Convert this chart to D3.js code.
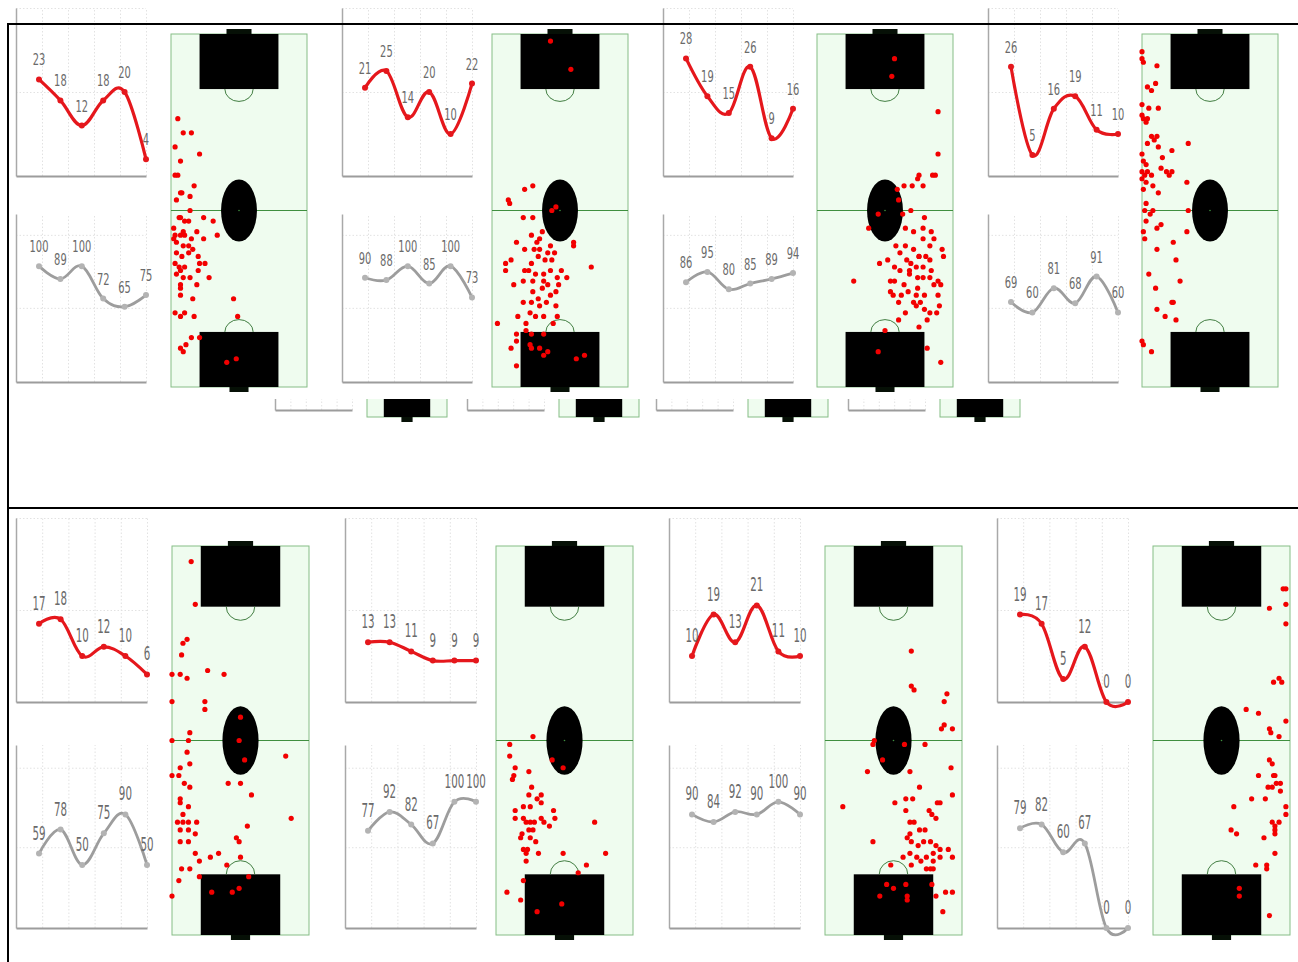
<!DOCTYPE html>
<html>
<head>
<meta charset="utf-8">
<script src="https://cdn.jsdelivr.net/npm/d3@7"></script>
<style>
  body { margin: 0; background: #fff; }
  svg { display: block; }
</style>
</head>
<body>
<svg id="canvas"></svg>
<script>
// six matches on every small line chart
const matches = ['M1', 'M2', 'M3', 'M4', 'M5', 'M6'];

// red chart values (upper) and grey chart values (lower), one pair per panel
const red1 = [23, 18, 12, 18, 20, 4];
const gray1 = [100, 89, 100, 72, 65, 75];
const red2 = [21, 25, 14, 20, 10, 22];
const gray2 = [90, 88, 100, 85, 100, 73];
const red3 = [28, 19, 15, 26, 9, 16];
const gray3 = [86, 95, 80, 85, 89, 94];
const red4 = [26, 5, 16, 19, 11, 10];
const gray4 = [69, 60, 81, 68, 91, 60];
const red5 = [17, 18, 10, 12, 10, 6];
const gray5 = [59, 78, 50, 75, 90, 50];
const red6 = [13, 13, 11, 9, 9, 9];
const gray6 = [77, 92, 82, 67, 100, 100];
const red7 = [10, 19, 13, 21, 11, 10];
const gray7 = [90, 84, 92, 90, 100, 90];
const red8 = [19, 17, 5, 12, 0, 0];
const gray8 = [79, 82, 60, 67, 0, 0];

const redMax = 40;
const grayMax = 145;
const redGridTicks = [20, 40];
const grayGridTicks = [64, 127];

// red dots on each pitch: [across 0-100, along 0-100 from the top goal]
const shots1 = [[5,24],[9,28],[15,28],[3,32],[21,34],[7,36],[3,40],[5,40],[17,43],[7,45],[8,45],[14,46],[4,47],[14,50],[7,52],[6,52],[10,53],[13,53],[24,52],[31,53],[2,55],[9,56],[19,56],[34,57],[3,57],[7,57],[10,57],[15,58],[24,58],[2,58],[4,59],[9,60],[13,60],[16,61],[4,62],[8,63],[13,62],[20,63],[3,65],[6,66],[10,66],[21,65],[25,65],[7,67],[4,68],[9,69],[14,69],[20,67],[28,69],[7,71],[19,71],[7,72],[7,74],[16,75],[46,75],[3,79],[7,80],[10,79],[17,80],[49,80],[21,86],[15,86],[11,88],[7,89],[9,90],[41,93],[48,92]];
const shots2 = [[43,2],[58,10],[24,44],[30,43],[12,47],[13,48],[47,49],[44,50],[23,52],[30,52],[37,56],[29,57],[35,58],[18,59],[33,59],[43,60],[60,59],[60,60],[24,61],[31,61],[35,61],[41,62],[46,62],[14,64],[34,63],[39,64],[44,64],[10,65],[29,65],[51,67],[73,66],[10,67],[24,67],[27,67],[32,68],[38,68],[43,67],[48,69],[55,69],[16,71],[23,70],[30,70],[38,70],[41,71],[49,71],[30,73],[37,72],[43,74],[47,73],[23,76],[29,76],[34,75],[40,76],[47,77],[35,77],[19,80],[28,79],[32,80],[38,80],[48,80],[45,82],[4,82],[25,82],[25,84],[18,85],[29,85],[38,85],[28,88],[35,89],[29,89],[18,87],[14,89],[41,90],[38,91],[62,92],[68,91],[18,94]];
const shots3 = [[57,7],[55,12],[89,22],[89,34],[75,40],[74,41],[85,40],[87,40],[59,44],[64,43],[70,43],[78,43],[60,47],[45,51],[63,51],[69,50],[79,52],[38,55],[65,55],[71,56],[78,55],[84,56],[86,58],[78,58],[83,60],[58,60],[65,60],[61,62],[71,61],[75,63],[80,63],[92,61],[93,63],[46,65],[52,64],[57,66],[66,64],[69,65],[75,63],[83,64],[61,67],[68,67],[73,66],[78,66],[84,67],[27,70],[54,70],[57,70],[68,68],[74,69],[78,69],[83,69],[89,70],[64,71],[74,72],[86,71],[91,71],[54,73],[56,74],[62,74],[67,73],[73,74],[60,76],[71,76],[76,76],[79,74],[90,77],[89,74],[79,78],[73,77],[88,79],[83,79],[65,79],[60,81],[81,81],[50,84],[75,83],[45,90],[81,89],[91,93]];
const shots4 = [[0,5],[0,7],[1,8],[11,9],[4,15],[7,16],[10,14],[0,20],[5,21],[12,21],[0,23],[1,24],[3,25],[4,24],[7,29],[9,30],[11,29],[4,31],[12,32],[15,35],[22,33],[34,31],[0,34],[1,36],[3,37],[0,39],[2,40],[4,39],[7,40],[14,38],[18,39],[20,40],[22,39],[0,41],[3,42],[1,44],[8,43],[12,45],[33,42],[3,48],[2,50],[8,50],[34,50],[6,51],[3,53],[14,54],[11,55],[33,56],[1,56],[2,58],[23,59],[11,61],[25,64],[5,68],[28,70],[10,72],[22,76],[23,76],[11,78],[17,80],[25,81],[0,87],[1,88],[7,90]];
const shots5 = [[14,4],[17,15],[8,25],[11,24],[7,28],[0,33],[6,33],[11,34],[26,32],[38,33],[0,40],[24,40],[24,42],[50,44],[13,48],[12,50],[0,50],[49,50],[11,53],[53,55],[13,56],[83,54],[6,57],[0,59],[5,59],[9,61],[13,62],[41,61],[50,61],[58,64],[6,65],[6,66],[12,67],[8,69],[87,70],[4,71],[8,71],[12,71],[18,71],[6,73],[12,73],[55,72],[17,74],[6,76],[12,76],[47,75],[49,76],[17,79],[20,81],[28,80],[34,79],[50,80],[40,82],[7,83],[13,83],[20,85],[5,86],[56,85],[29,89],[44,89],[49,88],[0,90]];
const shots6 = [[27,49],[10,51],[10,54],[41,55],[49,57],[14,57],[12,60],[13,59],[24,58],[26,62],[24,64],[33,64],[30,65],[33,66],[20,67],[25,67],[42,68],[14,68],[14,70],[20,70],[22,71],[25,71],[28,71],[33,70],[35,71],[39,72],[43,70],[72,71],[19,74],[24,73],[27,73],[18,75],[25,75],[29,76],[20,78],[23,78],[22,79],[22,81],[31,79],[49,79],[80,79],[60,84],[66,82],[20,86],[8,89],[18,91],[30,94],[48,92]];
const shots7 = [[63,27],[63,36],[65,37],[89,38],[87,40],[87,46],[85,47],[93,47],[35,51],[36,50],[58,51],[73,51],[42,55],[31,58],[62,58],[92,57],[69,62],[93,64],[13,67],[51,66],[59,65],[64,65],[59,68],[76,68],[78,69],[81,70],[82,66],[84,66],[62,71],[65,71],[35,76],[62,74],[69,73],[73,73],[60,75],[63,76],[68,77],[72,76],[77,76],[81,77],[90,78],[84,78],[79,79],[62,79],[67,80],[70,81],[57,80],[74,80],[84,80],[93,80],[79,81],[63,82],[74,83],[77,83],[79,83],[48,82],[45,87],[59,87],[50,88],[78,87],[40,90],[60,90],[60,91],[81,90],[88,89],[93,89],[86,94]];
const shots8 = [[95,11],[97,11],[97,15],[85,16],[97,20],[88,35],[92,34],[94,35],[68,42],[77,43],[97,45],[85,47],[86,48],[92,49],[85,55],[87,56],[77,59],[88,59],[89,59],[90,61],[84,62],[93,61],[87,62],[72,65],[82,65],[93,63],[59,67],[97,67],[97,69],[87,71],[89,72],[92,71],[89,73],[89,74],[81,75],[57,73],[61,74],[89,79],[75,82],[83,83],[83,82],[63,88],[63,90],[85,95]];

const panels = [
    { red: red1, gray: gray1, shots: shots1 },
    { red: red2, gray: gray2, shots: shots2 },
    { red: red3, gray: gray3, shots: shots3 },
    { red: red4, gray: gray4, shots: shots4 },
    { red: red5, gray: gray5, shots: shots5 },
    { red: red6, gray: gray6, shots: shots6 },
    { red: red7, gray: gray7, shots: shots7 },
    { red: red8, gray: gray8, shots: shots8 }
];

let width = 1298;
let height = 962;

let canvas = d3.select('#canvas');
canvas.attr('width', width);
canvas.attr('height', height);

// the picture is stretched vertically, so each row has its own geometry
const rows = [
    { redTop: 8, redBottom: 176, grayTop: 214, grayBottom: 382, chartW: 130,
      pitchTop: 34, pitchH: 353, pitchW: 136, labelSize: 9.9, labelSy: 1.6,
      x0s: [16, 342, 663, 988], pitchLefts: [171, 492, 817, 1142] },
    { redTop: 518, redBottom: 702, grayTop: 745, grayBottom: 928, chartW: 131,
      pitchTop: 546, pitchH: 389, pitchW: 137, labelSize: 10.3, labelSy: 1.8,
      x0s: [16, 345, 669, 997], pitchLefts: [172, 496, 825, 1153] }
];

function drawLineChart (g, x0, w, top, bottom, values, maxValue, gridTicks, opts) {
    let yScale = d3.scaleLinear().domain([0, maxValue]).range([bottom, top]);
    let xScale = d3.scalePoint().domain(matches).range([x0 + 23, x0 + w]);
    let gridScale = d3.scaleLinear().domain([0, 5]).range([x0, x0 + w]);

    // dotted grid
    let hGrid = g.append('g')
        .attr('transform', 'translate(' + x0 + ',0)')
        .call(d3.axisLeft(yScale).tickValues(gridTicks).tickSize(-w).tickFormat(''));
    let vGrid = g.append('g')
        .attr('transform', 'translate(0,' + bottom + ')')
        .call(d3.axisBottom(gridScale).tickValues([1, 2, 3, 4, 5]).tickSize(-(bottom - top)).tickFormat(''));
    [hGrid, vGrid].forEach((grid) => {
        grid.select('.domain').remove();
        grid.selectAll('line')
            .attr('stroke', '#e2e2e2')
            .attr('stroke-dasharray', '1.5,2');
    });

    // axis lines
    g.append('g')
        .attr('transform', 'translate(' + x0 + ',0)')
        .call(d3.axisLeft(yScale).tickValues([]).tickSizeOuter(0))
        .select('.domain').attr('stroke', '#a9a9a9').attr('stroke-width', 1.5);
    g.append('g')
        .attr('transform', 'translate(0,' + bottom + ')')
        .call(d3.axisBottom(gridScale).tickValues([]).tickSizeOuter(0))
        .select('.domain').attr('stroke', '#9c9c9c').attr('stroke-width', 2);

    if (values.length === 0) return;

    let line = d3.line()
        .x((d, i) => xScale(matches[i]))
        .y((d) => yScale(d))
        .curve(d3.curveCardinal.tension(-0.1));

    g.append('path')
        .datum(values)
        .attr('d', line)
        .attr('fill', 'none')
        .attr('stroke', opts.color)
        .attr('stroke-width', opts.lineWidth)
        .attr('stroke-linecap', 'round');

    g.selectAll(null)
        .data(values)
        .enter()
        .append('circle')
        .attr('cx', (d, i) => xScale(matches[i]))
        .attr('cy', (d) => yScale(d))
        .attr('r', 3)
        .attr('fill', opts.marker);

    g.selectAll(null)
        .data(values)
        .enter()
        .append('text')
        .attr('transform', (d, i) => 'translate(' + xScale(matches[i]) + ',' + (yScale(d) - 14) + ') scale(1,' + opts.labelSy + ')')
        .attr('text-anchor', 'middle')
        .attr('font-family', 'DejaVu Sans, sans-serif')
        .attr('font-size', opts.labelSize)
        .attr('fill', '#6a6a6a')
        .text((d) => d);
}

function drawPitch (g, left, top, w, h, shots) {
    let x = d3.scaleLinear().domain([0, 100]).range([left, left + w]);
    let y = d3.scaleLinear().domain([0, 100]).range([top, top + h]);
    let cx = x(50);
    let boxW = w * 0.58;
    let boxH = h * 0.156;

    g.append('rect')
        .attr('x', left).attr('y', top).attr('width', w).attr('height', h)
        .attr('fill', '#effcef').attr('stroke', '#86bd86').attr('stroke-width', 1);
    g.append('line')
        .attr('x1', left).attr('x2', left + w).attr('y1', y(50)).attr('y2', y(50))
        .attr('stroke', '#3f8f3f').attr('stroke-width', 1);
    g.append('ellipse')
        .attr('cx', cx).attr('cy', y(50)).attr('rx', w * 0.132).attr('ry', h * 0.088)
        .attr('fill', '#000');
    g.append('circle')
        .attr('cx', cx).attr('cy', y(50)).attr('r', 0.8).attr('fill', '#3f8f3f');

    // penalty boxes and goals
    g.append('rect')
        .attr('x', cx - boxW / 2).attr('y', top).attr('width', boxW).attr('height', boxH)
        .attr('fill', '#000');
    g.append('rect')
        .attr('x', cx - boxW / 2).attr('y', top + h - boxH).attr('width', boxW).attr('height', boxH)
        .attr('fill', '#000');
    g.append('rect')
        .attr('x', cx - w * 0.092).attr('y', top - 5).attr('width', w * 0.184).attr('height', 5)
        .attr('fill', '#061006');
    g.append('rect')
        .attr('x', cx - w * 0.07).attr('y', top + h).attr('width', w * 0.14).attr('height', 5)
        .attr('fill', '#061006');

    let rx = w * 0.104;
    let ry = h * 0.035;
    g.append('path')
        .attr('d', 'M' + (cx - rx) + ',' + (top + boxH) + ' A' + rx + ',' + ry + ' 0 0 0 ' + (cx + rx) + ',' + (top + boxH))
        .attr('fill', 'none').attr('stroke', '#2f6f2f').attr('stroke-width', 0.9);
    g.append('path')
        .attr('d', 'M' + (cx - rx) + ',' + (top + h - boxH) + ' A' + rx + ',' + ry + ' 0 0 1 ' + (cx + rx) + ',' + (top + h - boxH))
        .attr('fill', 'none').attr('stroke', '#2f6f2f').attr('stroke-width', 0.9);

    g.selectAll(null)
        .data(shots)
        .enter()
        .append('circle')
        .attr('cx', (d) => x(d[0]))
        .attr('cy', (d) => y(d[1]))
        .attr('r', 2.6)
        .attr('fill', '#f20000');
}

canvas.append('rect').attr('width', width).attr('height', height).attr('fill', '#fff');

panels.forEach((p, i) => {
    let row = rows[Math.floor(i / 4)];
    let col = i % 4;
    let x0 = row.x0s[col];
    let g = canvas.append('g');
    let redOpts = { color: '#e5171c', marker: '#e5171c', lineWidth: 3.2, labelSize: row.labelSize, labelSy: row.labelSy };
    let grayOpts = { color: '#9d9d9d', marker: '#b3b3b3', lineWidth: 2.8, labelSize: row.labelSize, labelSy: row.labelSy };
    drawLineChart(g, x0, row.chartW, row.redTop, row.redBottom, p.red, redMax, redGridTicks, redOpts);
    drawLineChart(g, x0, row.chartW, row.grayTop, row.grayBottom, p.gray, grayMax, grayGridTicks, grayOpts);
    drawPitch(g, row.pitchLefts[col], row.pitchTop, row.pitchW, row.pitchH, p.shots);
});

// cut-off strip of smaller panels under the first row
canvas.append('clipPath').attr('id', 'strip')
    .append('rect').attr('x', 260).attr('y', 399).attr('width', 780).attr('height', 27);
let strip = canvas.append('g').attr('clip-path', 'url(#strip)');
[275, 467, 656, 848].forEach((sx) => {
    let mini = strip.append('g');
    drawLineChart(mini, sx, 77, 311, 410, [], grayMax, grayGridTicks, {});
    drawPitch(mini, sx + 92, 209, 80, 208, []);
});

// frame lines
canvas.append('path')
    .attr('d', 'M8,962 L8,24 L1298,24 M8,508 L1298,508')
    .attr('fill', 'none')
    .attr('stroke', '#000')
    .attr('stroke-width', 2);
</script>
</body>
</html>
